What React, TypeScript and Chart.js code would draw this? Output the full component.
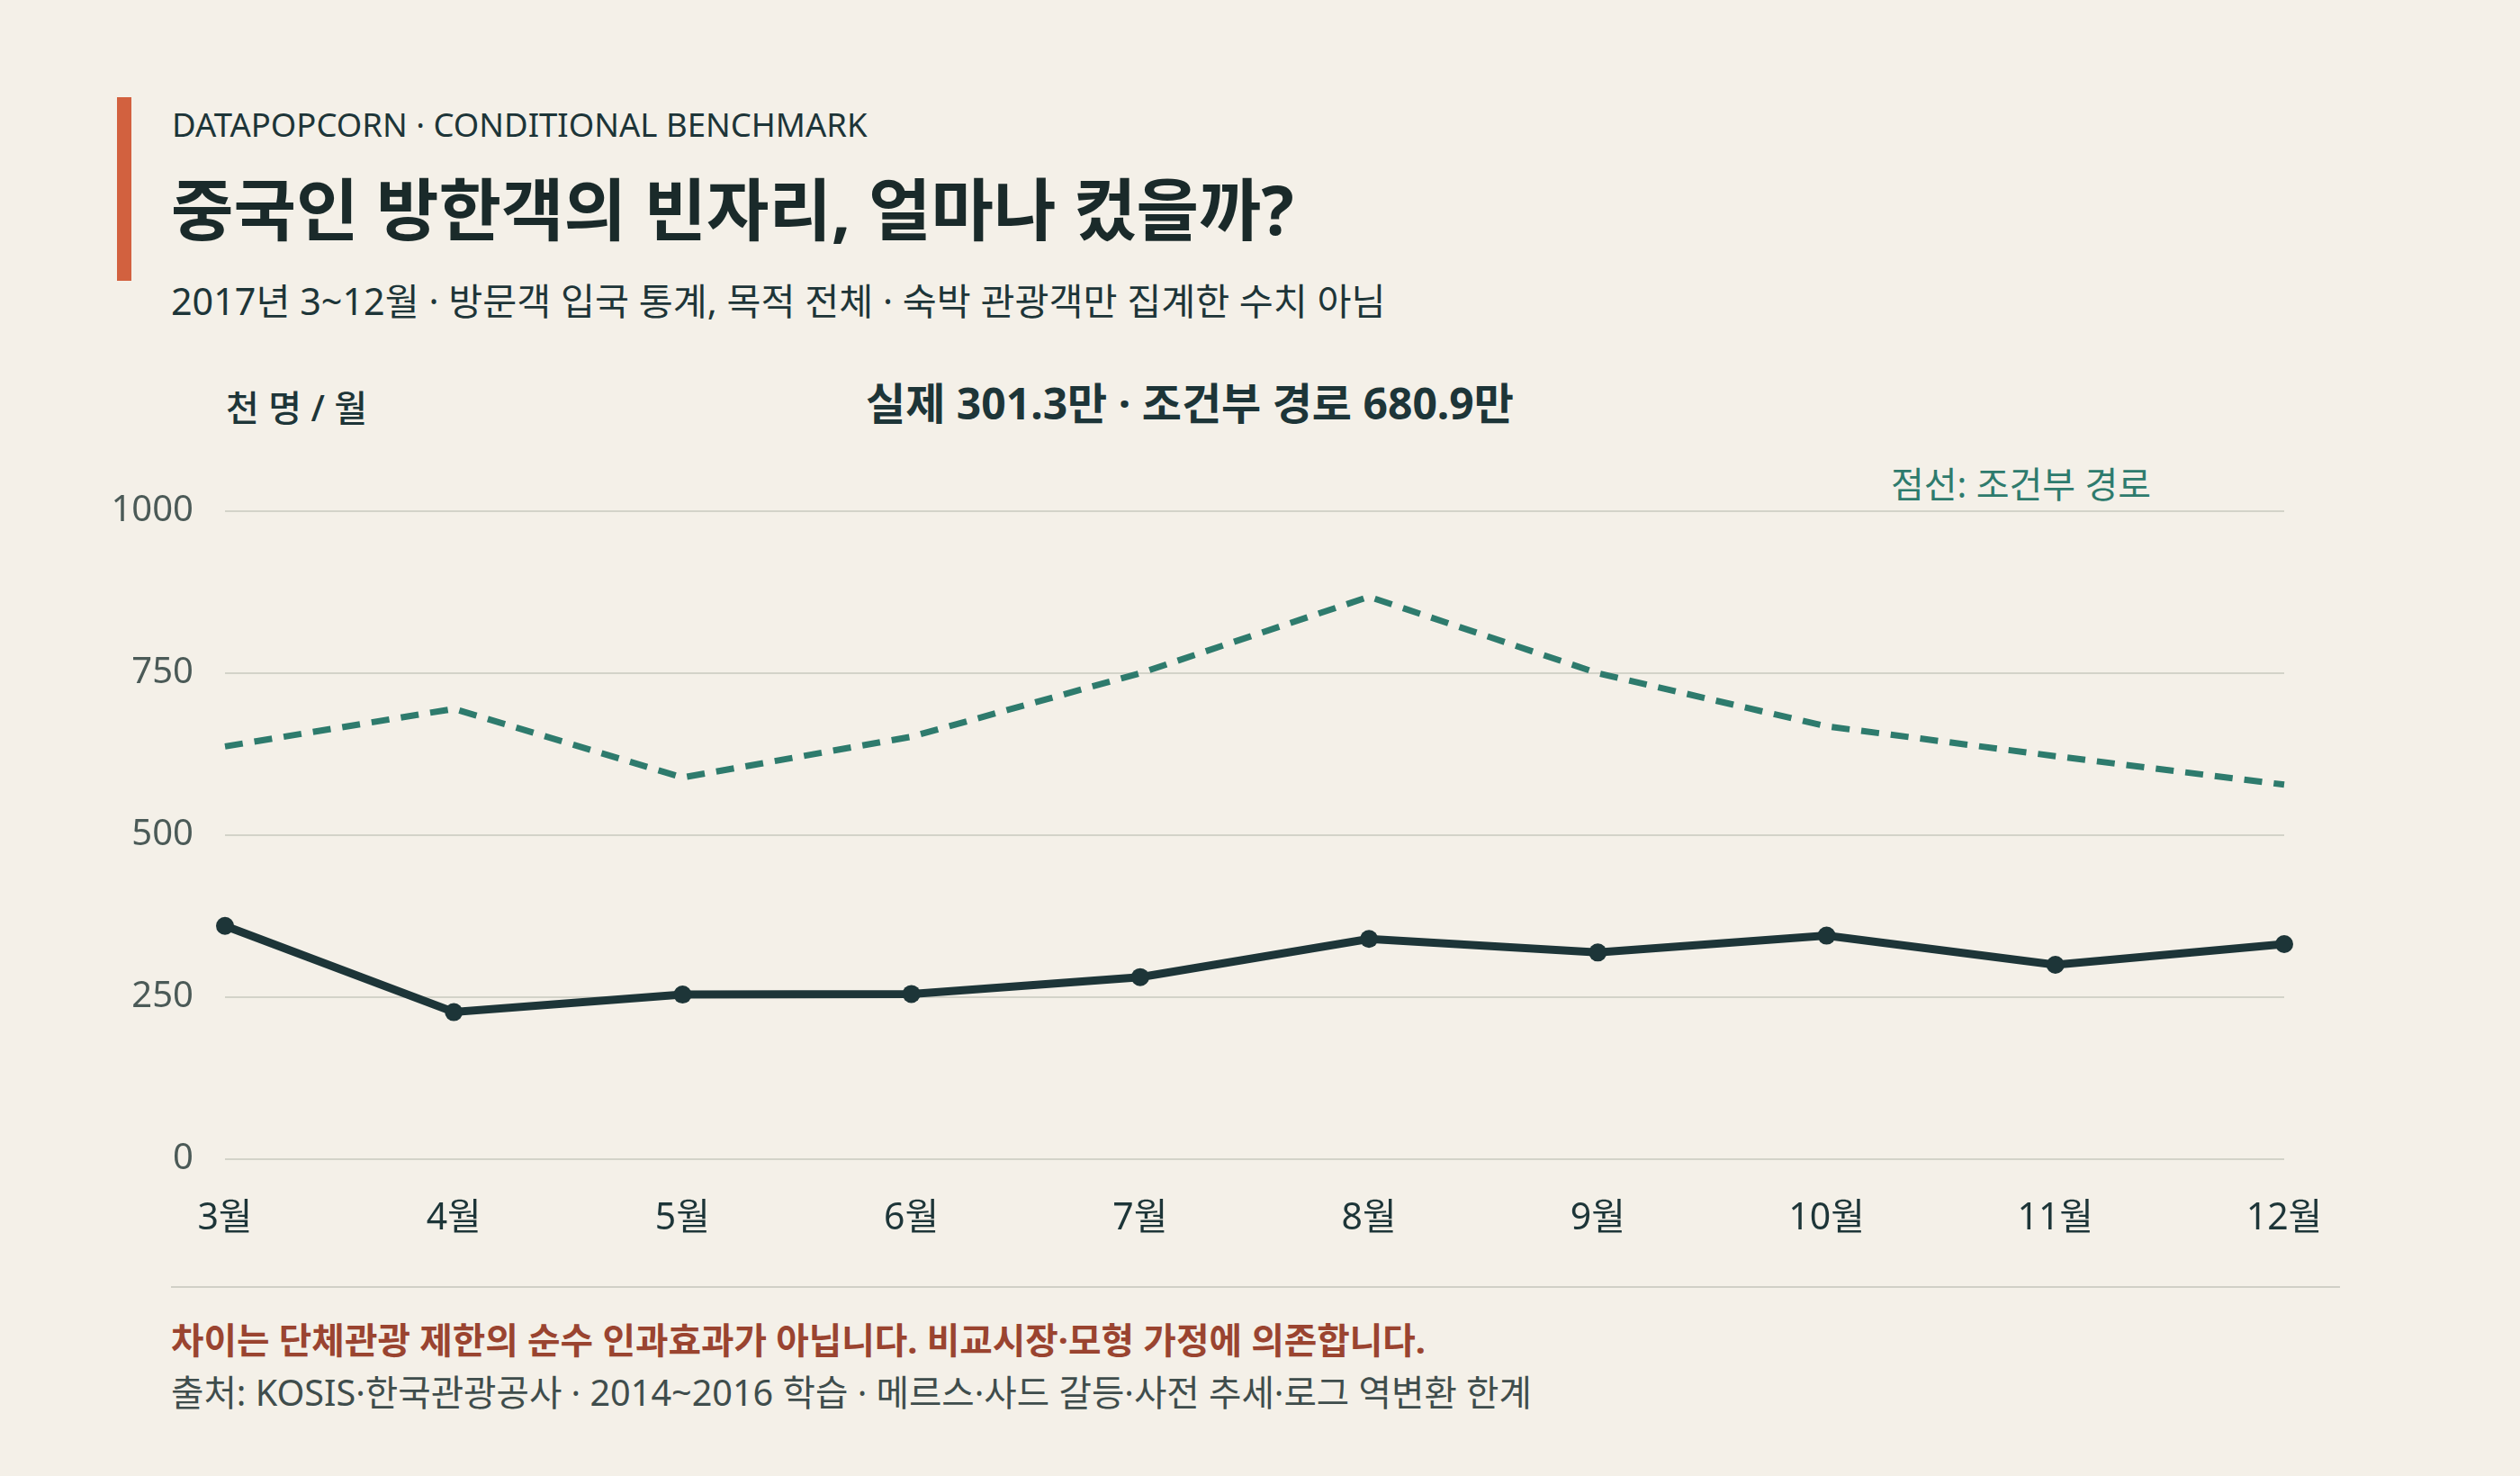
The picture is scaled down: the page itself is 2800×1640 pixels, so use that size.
import React, { useEffect, useRef } from 'react';
import { Chart, registerables } from 'chart.js';

Chart.register(...registerables);

const MONTHS = ['3월', '4월', '5월', '6월', '7월', '8월', '9월', '10월', '11월', '12월'];
const ACTUAL = [360, 227, 254, 255, 281, 340, 319, 345, 300, 332];
const CONDITIONAL = [637, 695, 589, 652, 750, 868, 750, 668, 622, 578];
const Y_MIN = 0;
const Y_MAX = 1000;
const Y_STEP = 250;

const BG = '#f4f0e8';
const DARK = '#1d3538';
const TEAL = '#2e7b6d';
const GRID = '#d3d3c9';
const FONT = '"Noto Sans", "Noto Sans CJK KR", sans-serif';

export default function App() {
  const ref = useRef<HTMLCanvasElement>(null);

  useEffect(() => {
    document.body.style.margin = '0';
    document.body.style.background = BG;
    const chart = new Chart(ref.current as HTMLCanvasElement, {
      type: 'line',
      data: {
        labels: MONTHS,
        datasets: [
          {
            label: '실제',
            data: ACTUAL,
            borderColor: DARK,
            backgroundColor: DARK,
            borderWidth: 9,
            pointRadius: 10,
            pointBorderWidth: 0,
            pointBackgroundColor: DARK,
            tension: 0,
            order: 1,
          },
          {
            label: '조건부 경로',
            data: CONDITIONAL,
            borderColor: TEAL,
            backgroundColor: TEAL,
            borderWidth: 7,
            borderDash: [20, 13],
            borderCapStyle: 'butt',
            pointRadius: 0,
            tension: 0,
            order: 2,
          },
        ],
      },
      options: {
        animation: false,
        responsive: true,
        maintainAspectRatio: false,
        layout: { padding: { left: 0, right: 62, top: 68, bottom: 0 } },
        plugins: {
          legend: { display: false },
          tooltip: { enabled: false },
          title: { display: false },
        },
        scales: {
          x: {
            type: 'category',
            offset: false,
            grid: { display: false },
            border: { display: false },
            ticks: {
              color: DARK,
              font: { family: FONT, size: 41 },
              padding: 34,
              maxRotation: 0,
              autoSkip: false,
            },
            afterFit: (scale: any) => {
              scale.height = 112;
              scale.paddingLeft = 0;
              scale.paddingRight = 0;
            },
          },
          y: {
            min: Y_MIN,
            max: Y_MAX,
            grid: { color: GRID, lineWidth: 2, drawTicks: false },
            border: { display: false },
            ticks: {
              stepSize: Y_STEP,
              color: '#4b5a57',
              font: { family: FONT, size: 40 },
              padding: 35,
              callback: (v: any) => String(v),
            },
            afterFit: (scale: any) => {
              scale.width = 150;
            },
          },
        },
      },
    });
    return () => chart.destroy();
  }, []);

  const txt = (extra: React.CSSProperties): React.CSSProperties => ({
    position: 'absolute',
    whiteSpace: 'nowrap',
    lineHeight: 1,
    margin: 0,
    ...extra,
  });

  return (
    <div
      style={{
        position: 'absolute',
        left: 0,
        top: 0,
        width: 2800,
        height: 1640,
        background: BG,
        overflow: 'hidden',
        fontFamily: FONT,
        color: DARK,
      }}
    >
      <div style={{ position: 'absolute', left: 130, top: 108, width: 16, height: 204, background: '#d2613f' }} />
      <div style={txt({ left: 191, top: 120, fontSize: 36.5, fontWeight: 400, color: DARK })}>
        DATAPOPCORN · CONDITIONAL BENCHMARK
      </div>
      <div style={txt({ left: 190, top: 194, fontSize: 75.5, fontWeight: 700, color: '#1a2a2a' })}>
        중국인 방한객의 빈자리, 얼마나 컸을까?
      </div>
      <div style={txt({ left: 190, top: 314, fontSize: 41.3, fontWeight: 400, color: DARK })}>
        2017년 3~12월 · 방문객 입국 통계, 목적 전체 · 숙박 관광객만 집계한 수치 아님
      </div>
      <div style={txt({ left: 251, top: 433, fontSize: 40, fontWeight: 500, color: DARK })}>
        천 명 / 월
      </div>
      <div style={txt({ left: 962, top: 424, fontSize: 48, fontWeight: 700, color: DARK })}>
        실제 301.3만 · 조건부 경로 680.9만
      </div>
      <div style={txt({ left: 2101, top: 518, fontSize: 40, fontWeight: 400, color: TEAL })}>
        점선: 조건부 경로
      </div>
      <div style={{ position: 'absolute', left: 100, top: 500, width: 2500, height: 900 }}>
        <canvas ref={ref} />
      </div>
      <div style={{ position: 'absolute', left: 190, top: 1429, width: 2410, height: 2, background: '#d0d0c6' }} />
      <div style={txt({ left: 190, top: 1470, fontSize: 39.7, fontWeight: 700, color: '#9a4430' })}>
        차이는 단체관광 제한의 순수 인과효과가 아닙니다. 비교시장·모형 가정에 의존합니다.
      </div>
      <div style={txt({ left: 190, top: 1528, fontSize: 39.6, fontWeight: 400, color: '#3f4d4c' })}>
        출처: KOSIS·한국관광공사 · 2014~2016 학습 · 메르스·사드 갈등·사전 추세·로그 역변환 한계
      </div>
    </div>
  );
}
